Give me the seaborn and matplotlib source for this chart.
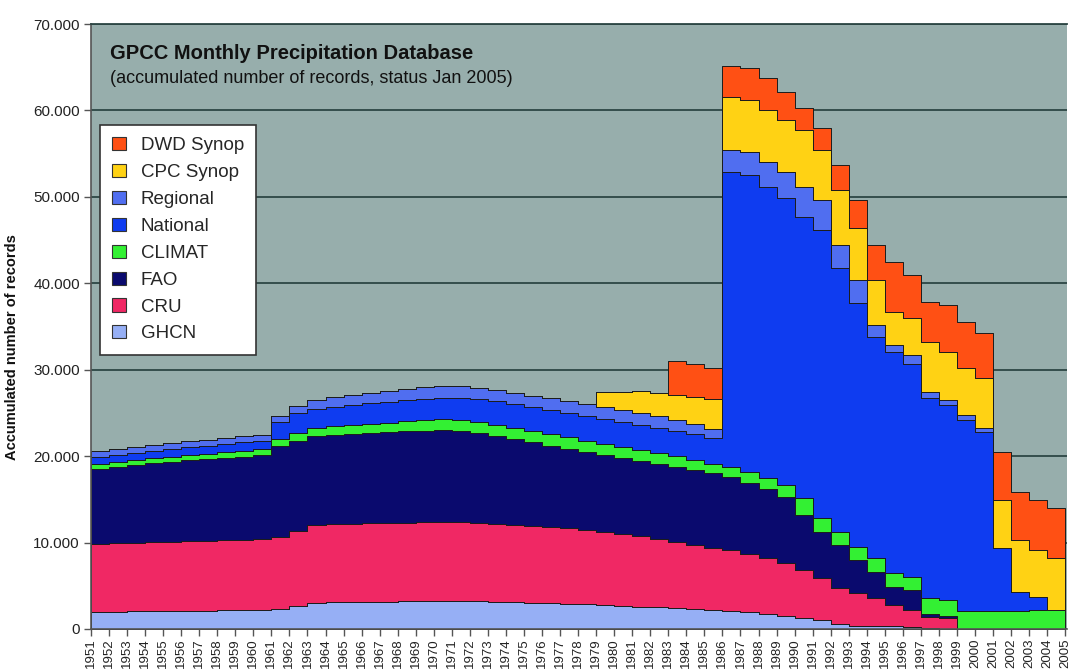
import numpy as np
import matplotlib
matplotlib.use("Agg")
import matplotlib.pyplot as plt
import seaborn as sns
from matplotlib.patches import Patch
from matplotlib.ticker import FuncFormatter

# ---------------- data (records, value per year 1951..2004) ----------------
years = list(range(1951, 2005))

ghcn = [1970, 1970, 2080, 2080, 2080, 2080, 2080, 2200, 2200, 2200,
        2310, 2660, 3010, 3120, 3120, 3120, 3120, 3240, 3240, 3240,
        3240, 3240, 3120, 3120, 3010, 3010, 2890, 2890, 2780, 2660,
        2550, 2550, 2430, 2310, 2200, 2080, 1970, 1740, 1500, 1270,
        1040, 580, 350, 350, 350, 230, 120, 0, 0, 0,
        0, 0, 0, 0]
cru = [7870, 7980, 7870, 7980, 7980, 8100, 8100, 8100, 8100, 8210,
       8330, 8680, 9020, 9020, 9020, 9140, 9140, 9020, 9140, 9140,
       9140, 9020, 9020, 8910, 8910, 8790, 8790, 8560, 8450, 8330,
       8210, 7870, 7640, 7400, 7170, 7060, 6710, 6480, 6130, 5550,
       4860, 4170, 3820, 3240, 2430, 1970, 1270, 1270, 0, 0,
       0, 0, 0, 0]
fao = [8680, 8790, 9020, 9140, 9260, 9370, 9490, 9490, 9600, 9720,
       10530, 10410, 10300, 10300, 10410, 10410, 10530, 10640, 10530, 10640,
       10530, 10410, 10180, 9950, 9720, 9370, 9140, 9020, 8910, 8790,
       8680, 8680, 8680, 8680, 8680, 8450, 8210, 7980, 7640, 6360,
       5320, 4980, 3820, 3010, 2080, 2310, 350, 230, 0, 0,
       0, 0, 0, 0]
climat = [580, 580, 580, 580, 580, 580, 580, 690, 690, 690,
          810, 930, 930, 1040, 1040, 1040, 1040, 1160, 1270, 1270,
          1270, 1270, 1270, 1270, 1270, 1390, 1390, 1270, 1270, 1270,
          1270, 1270, 1270, 1160, 1040, 1160, 1270, 1270, 1390, 1970,
          1620, 1500, 1500, 1620, 1620, 1500, 1850, 1850, 2080, 2080,
          2080, 2080, 2200, 2200]
national = [810, 810, 810, 810, 930, 930, 930, 930, 1040, 930,
            1970, 2310, 2200, 2200, 2310, 2430, 2430, 2430, 2430, 2430,
            2550, 2660, 2780, 2780, 2780, 2780, 2780, 2890, 2890, 2890,
            2890, 2890, 2890, 3010, 3010, 34130, 34360, 33670, 33210, 32510,
            33320, 30540, 28230, 25570, 25570, 24640, 23140, 22560, 22100, 20710,
            7290, 2200, 1500, 0]
regional = [690, 690, 690, 690, 690, 690, 690, 690, 690, 690,
            690, 810, 1040, 1160, 1160, 1160, 1270, 1270, 1390, 1390,
            1390, 1270, 1270, 1270, 1270, 1390, 1390, 1390, 1390, 1390,
            1390, 1390, 1270, 1160, 1040, 2550, 2660, 2890, 3010, 3470,
            3470, 2660, 2660, 1390, 810, 1040, 690, 580, 580, 460,
            0, 0, 0, 0]
cpc_synop = [0, 0, 0, 0, 0, 0, 0, 0, 0, 0,
             0, 0, 0, 0, 0, 0, 0, 0, 0, 0,
             0, 0, 0, 0, 0, 0, 0, 0, 1740, 2080,
             2550, 2660, 2890, 3120, 3470, 6130, 6020, 6020, 6020, 6600,
             5790, 6360, 6020, 5210, 3820, 4280, 5790, 5550, 5440, 5790,
             5550, 6020, 5440, 6020]
dwd_synop = [0, 0, 0, 0, 0, 0, 0, 0, 0, 0,
             0, 0, 0, 0, 0, 0, 0, 0, 0, 0,
             0, 0, 0, 0, 0, 0, 0, 0, 0, 0,
             0, 0, 3930, 3820, 3590, 3590, 3700, 3700, 3240, 2550,
             2550, 2890, 3240, 4050, 5790, 4980, 4630, 5440, 5320, 5210,
             5550, 5550, 5790, 5790]

series_names = ["GHCN", "CRU", "FAO", "CLIMAT", "National", "Regional",
                "CPC Synop", "DWD Synop"]
series_colors = ["#96AFF5", "#F02864", "#0A0A6E", "#33F033", "#0F3CF0",
                 "#506EF0", "#FFD214", "#FF5014"]
y_ticks = [0, 10000, 20000, 30000, 40000, 50000, 60000, 70000]
title = "GPCC Monthly Precipitation Database"
subtitle = "(accumulated number of records, status Jan 2005)"
ylabel = "Accumulated number of records"

# ---------------- styling ----------------
sns.set_theme(style="white")
plt.rcParams['font.family'] = ['Liberation Sans', 'DejaVu Sans']

fig = plt.figure(figsize=(10.72, 6.71), dpi=100)
W, H = 1072, 671
ax = fig.add_axes([91 / W, 1 - 629 / H, (1067 - 91) / W, (629 - 24) / H])
ax.set_facecolor("#97AEAC")

x = np.append(np.array(years, dtype=float), years[-1] + 1)
stack = [ghcn, cru, fao, climat, national, regional, cpc_synop, dwd_synop]
ys = [np.append(np.array(s, dtype=float), s[-1]) for s in stack]
ax.stackplot(x, *ys, colors=series_colors, step="post",
             edgecolor="#1c1c1c", linewidth=0.7, zorder=2)

ax.set_xlim(years[0], years[-1] + 1.1)
ax.set_ylim(0, 70000)
ax.set_yticks(y_ticks)
ax.yaxis.set_major_formatter(FuncFormatter(lambda v, p: f"{int(v):,}".replace(",", ".")))
ax.yaxis.grid(True, color="#2C4644", linewidth=1.3, zorder=0)
ax.xaxis.grid(False)
ax.set_axisbelow(True)

ax.set_xticks(years + [years[-1] + 1])
ax.set_xticklabels([str(y) for y in years + [years[-1] + 1]], rotation=90)
ax.tick_params(axis="x", direction="out", length=5, width=1, color="#555555",
               labelsize=9.5, pad=2, labelcolor="#222222", bottom=True)
ax.tick_params(axis="y", direction="out", length=5, width=1, color="#555555",
               labelsize=11, pad=3, labelcolor="#222222", left=True)

for side in ["left", "bottom"]:
    ax.spines[side].set_color("#555555")
    ax.spines[side].set_linewidth(1.2)
ax.spines["top"].set_color("#2C4644")
ax.spines["top"].set_linewidth(1.3)
ax.spines["right"].set_visible(False)

ax.set_ylabel(ylabel, fontsize=10.5, fontweight="bold", color="#111111")
ax.yaxis.set_label_coords(-0.074, 0.466)

ax.text(0.0195, 0.942, title, transform=ax.transAxes, fontsize=14.5,
        fontweight="bold", color="#111111", va="baseline", ha="left", zorder=5)
ax.text(0.0195, 0.903, subtitle, transform=ax.transAxes, fontsize=13,
        color="#111111", va="baseline", ha="left", zorder=5)

handles = [Patch(facecolor=c, edgecolor="#333333", linewidth=0.8, label=n)
           for n, c in zip(series_names[::-1], series_colors[::-1])]
leg = ax.legend(handles=handles, loc="upper left", bbox_to_anchor=(0.0095, 0.833),
                borderaxespad=0, frameon=True, fancybox=False, edgecolor="#333333",
                facecolor="white", framealpha=1, fontsize=13.5,
                handlelength=0.7, handleheight=0.7, labelspacing=0.52,
                handletextpad=0.8, borderpad=0.65)
leg.get_frame().set_linewidth(1.2)
leg.set_zorder(6)

fig.savefig("out.png", dpi=100)
